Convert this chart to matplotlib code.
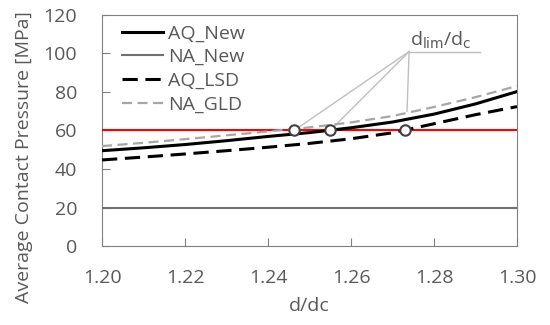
import matplotlib.pyplot as plt

plt.rcParams['font.family'] = ['Open Sans', 'DejaVu Sans']

# d/dc positions
d = [1.20, 1.21, 1.22, 1.23, 1.24, 1.25, 1.26, 1.27, 1.28, 1.29, 1.30]

aq_new = [49.5, 51.0, 52.7, 54.7, 56.9, 58.9, 61.4, 64.4, 68.5, 73.8, 80.2]
na_new = [20, 20, 20, 20, 20, 20, 20, 20, 20, 20, 20]
aq_lsd = [44.7, 46.2, 47.8, 49.5, 51.3, 53.3, 55.7, 58.8, 63.5, 68.2, 72.4]
na_gld = [51.9, 53.6, 55.5, 57.5, 59.5, 61.6, 64.2, 67.5, 72.2, 77.3, 83.1]
limit = [60, 60, 60, 60, 60, 60, 60, 60, 60, 60, 60]

# d_lim/d_c points
d_lim = [1.2463, 1.255, 1.273]
p_lim = [60, 60, 60]

# annotation leader lines
lbl_pt = (1.274, 101)
lead_x = [1.2463, 1.255, 1.2735]
lead_y = [60, 60, 70]

txt = '#595959'
fs = 14
fig, ax = plt.subplots(figsize=(5.5, 3.25), dpi=100)
fig.subplots_adjust(left=0.1855, right=0.94, bottom=0.243, top=0.954)

# leader lines for label
for x, y in zip(lead_x, lead_y):
    ax.plot([lbl_pt[0], x], [lbl_pt[1], y], color='#bfbfbf', lw=1.0, zorder=2)
ax.plot([lbl_pt[0], 1.291], [lbl_pt[1], lbl_pt[1]], color='#bfbfbf', lw=1.0, zorder=2)
ax.text(1.2815, 101.5, r'd$_{\mathrm{lim}}$/d$_{\mathrm{c}}$', color=txt, fontsize=fs,
        ha='center', va='bottom')

ax.plot(d, limit, color='#ff0000', lw=1.5, zorder=3)
ax.plot(d, aq_new, color='black', lw=2.2, label='AQ_New', zorder=4)
ax.plot(d, na_new, color='#707070', lw=1.5, label='NA_New', zorder=4)
ax.plot(d, aq_lsd, color='black', lw=2.2, ls=(0, (5, 2.5)), label='AQ_LSD', zorder=4)
ax.plot(d, na_gld, color='#a6a6a6', lw=1.6, ls=(0, (4.5, 2.5)), label='NA_GLD', zorder=4)

ax.plot(d_lim, p_lim, 'o', ms=7.5, mfc='white', mec='#404040', mew=1.5, zorder=5)

ax.set_xlim(1.20, 1.30)
ax.set_ylim(0, 120)
ax.set_xticks([1.20, 1.22, 1.24, 1.26, 1.28, 1.30])
ax.set_xticklabels(['1.20', '1.22', '1.24', '1.26', '1.28', '1.30'])
ax.set_yticks(range(0, 121, 20))
ax.tick_params(direction='in', length=6, color='#808080', labelcolor=txt,
               labelsize=fs)
ax.tick_params(axis='x', pad=16.5)
ax.tick_params(axis='y', pad=18)
for s in ax.spines.values():
    s.set_color('#808080')
ax.set_xlabel('d/dc', color=txt, fontsize=fs, labelpad=7)
ax.set_ylabel('Average Contact Pressure [MPa]', color=txt, fontsize=fs)
ax.yaxis.set_label_coords(-0.166, 0.385)

leg = ax.legend(loc='upper left', frameon=False, fontsize=fs, labelcolor=txt,
                handlelength=2.1, handletextpad=0.25, labelspacing=0.3,
                borderaxespad=0.2, bbox_to_anchor=(0.02, 1.01))

plt.savefig('out.png', dpi=100)
